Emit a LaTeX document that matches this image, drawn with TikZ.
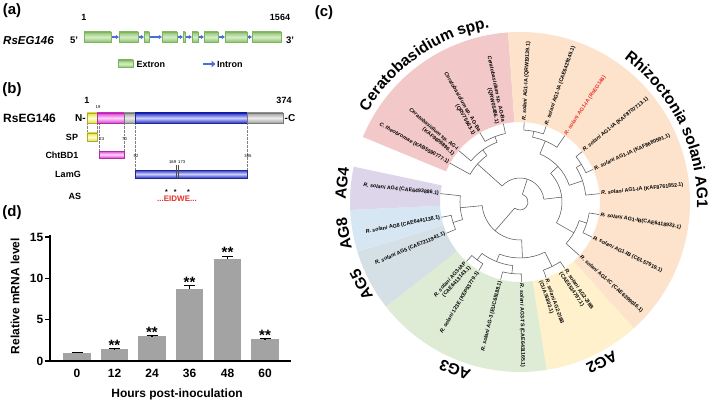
\documentclass[tikz,border=0pt]{standalone}
\usepackage{fontspec}
\setmainfont{Liberation Sans}
\usetikzlibrary{arrows.meta,decorations.text}

\definecolor{exonD}{HTML}{7DB55C}
\definecolor{exonL}{HTML}{D6EEC6}
\definecolor{intronC}{HTML}{4A6FD4}
\definecolor{spD}{HTML}{E8E04A}
\definecolor{spL}{HTML}{FFFFD0}
\definecolor{pkD}{HTML}{E040D8}
\definecolor{pkL}{HTML}{FFD8F8}
\definecolor{blD}{HTML}{2A34C4}
\definecolor{blL}{HTML}{CDD0FF}
\definecolor{gyD}{HTML}{A0A0A0}
\definecolor{gyL}{HTML}{EEEEEE}
\definecolor{barC}{HTML}{A3A3A3}
\definecolor{cCer}{HTML}{F3C8C8}
\definecolor{cAGone}{HTML}{FDE3CC}
\definecolor{cAGtwo}{HTML}{FEF1CC}
\definecolor{cAGthree}{HTML}{DEECD6}
\definecolor{cAGfive}{HTML}{D4E0E6}
\definecolor{cAGeight}{HTML}{D7E6F3}
\definecolor{cAGfour}{HTML}{DDD6EA}
\definecolor{brC}{HTML}{5A5A5A}
\definecolor{redC}{HTML}{E8302A}

\newcommand\fsz[2]{\fontsize{#1}{#2}\selectfont}
\newcommand\grpfont{\fontsize{15.5}{17}\selectfont\bfseries}
\newcommand\Rsol{\textit{R. solani}}
\newcommand\clade[5]{%
  \draw[br] (#2:#1) arc[start angle=#2, end angle=#4, radius=#1];
  \draw[br] (#2:#1) -- (#2:#3);
  \draw[br] (#4:#1) -- (#4:#5);}
\newcommand\leafR[3]{\node[lright, rotate=#2] (#1) at (#2:81) {#3};}
\newcommand\leafL[3]{\node[lleft, rotate=#2+180] (#1) at (#2:81) {#3};}
\newcommand\leafRt[3]{\node[lright, rotate=#2, yshift=-3.1pt] (#1) at (#2:81) {#3};}
\newcommand\leafLt[3]{\node[lleft, rotate=#2+180, yshift=-3.1pt] (#1) at (#2:81) {#3};}

\begin{document}
\begin{tikzpicture}[x=1pt,y=1pt,
  plab/.style={font=\fsz{15}{18}\bfseries, inner sep=0pt},
  tnine/.style={font=\fsz{9}{10}\bfseries, inner sep=0pt},
  tiny/.style={font=\fsz{4.2}{5}, inner sep=0pt},
  exon/.style={draw=exonD, line width=0.4, top color=exonD!85, bottom color=exonD!85, middle color=exonL},
  intron/.style={draw=intronC, line width=1.3, -{Triangle[length=3.2,width=4]}},
  dom/.style 2 args={draw=#1!75!black, line width=0.3, top color=#1, bottom color=#1, middle color=#2},
  dline/.style={draw=gray, line width=0.35, densely dotted},
  axisl/.style={line width=1.3, line cap=rect},
  tick/.style={font=\fsz{12}{14}\bfseries, inner sep=0pt},
  axlab/.style={font=\fsz{12}{14}\bfseries, inner sep=0pt},
  star/.style={font=\fsz{15}{16}\bfseries, inner sep=0pt},
  err/.style={line width=1.1},
  br/.style={draw=brC, line width=0.55},
  lbl/.style={font=\fsz{5.3}{6.2}\bfseries, inner sep=0.4pt},
  lright/.style={lbl, anchor=west, align=left},
  lleft/.style={lbl, anchor=east, align=right},
  glab/.style={font=\grpfont, inner sep=0pt}]
\useasboundingbox (0,0) rectangle (709,-401);
\fill[white] (0,0) rectangle (709,-401);

% ---------- panel labels
\node[plab] (pa) at (12,-11) {(a)};
\node[plab] (pb) at (12,-90) {(b)};
\node[plab] (pc) at (324,-13) {(c)};
\node[plab] (pd) at (12,-213) {(d)};

% ---------- (a) gene structure
\node[font=\fsz{11.5}{13}\bfseries\itshape, inner sep=0pt, anchor=west] (ga) at (3,-40.5) {RsEG146};
\node[font=\fsz{9.5}{11}\bfseries, inner sep=0pt] (afive) at (74,-40.5) {5'};
\node[font=\fsz{9.5}{11}\bfseries, inner sep=0pt] (athree) at (290,-40.5) {3'};
\node[tnine] (aone) at (84,-17) {1};
\node[tnine] (aend) at (280,-17) {1564};
\foreach \a/\b in {111/119,138/144,149/162,177/183,185/192,198/204,218/225,247/252}
  \draw[intron] (\a,-37) -- (\b,-37);
\foreach \a/\b in {84/111,119/138,144/149,162/177,183/185,192/198,204/218,225/247,252/281}
  \draw[exon] (\a,-32) rectangle (\b,-42);
\draw[exon] (118,-60) rectangle (133,-67.5);
\node[tnine, anchor=west] (lex) at (136.5,-64) {Extron};
\draw[draw=intronC, line width=2.6, -{Triangle[length=4,width=6.5]}] (203,-64) -- (215.5,-64);
\node[tnine, anchor=west] (lin) at (217,-64) {Intron};

% ---------- (b) domain structure
\node[font=\fsz{12}{14}\bfseries, inner sep=0pt, anchor=west] (bname) at (3,-118) {RsEG146};
\node[font=\fsz{10}{12}\bfseries, inner sep=0pt, anchor=east] (bN) at (86,-118) {N-};
\node[font=\fsz{10}{12}\bfseries, inner sep=0pt, anchor=west] (bC) at (284.5,-118) {-C};
\node[tnine] (bone) at (87,-100) {1};
\node[tnine] (bend) at (284,-100) {374};
\node[tiny] (n19) at (98,-107.5) {19};
\draw[dline] (87,-123) -- (87,-133);
\draw[dline] (97,-123) -- (97,-133);
\draw[dline] (99,-123) -- (99,-151);
\draw[dline] (124,-123) -- (124,-151);
\draw[dline] (135.2,-123) -- (135.2,-170);
\draw[dline] (247,-123) -- (247,-170);
\draw[dom={spD}{spL}] (87,-113) rectangle (97,-123);
\draw[dom={pkD}{pkL}] (97,-113) rectangle (124,-123);
\draw[dom={gyD}{gyL}] (124,-113) rectangle (135.2,-123);
\draw[dom={blD}{blL}] (135.2,-113) rectangle (247,-123);
\draw[dom={gyD}{gyL}] (247,-113) rectangle (283,-123);
\node[tnine] (bsp) at (72,-137) {SP};
\draw[dom={spD}{spL}] (87,-133) rectangle (97,-141);
\node[tiny] (n23) at (101.8,-139) {23};
\node[tiny] (n70) at (124.5,-139) {70};
\node[tnine] (bcht) at (62,-155) {ChtBD1};
\draw[dom={pkD}{pkL}] (99,-151) rectangle (124,-158);
\node[tiny] (n92) at (136,-156) {92};
\node[tiny] (n305) at (248,-156) {305};
\node[tiny, anchor=east] (n169) at (176.3,-162) {169};
\node[tiny, anchor=west] (n173) at (178,-162) {173};
\node[tnine] (blam) at (68,-174) {LamG};
\draw[dom={blD}{blL}] (135.2,-170) rectangle (247,-178);
\draw[line width=0.35, draw=black!70] (175.7,-165) -- (175.7,-178);
\draw[line width=0.35, draw=black!70] (177.7,-165) -- (177.7,-178);
\node[tnine] (bas) at (75,-196) {AS};
\foreach \x [count=\k] in {166.5,175.3,188.6}
  \node[font=\fsz{7}{8}\bfseries, inner sep=0pt] (ast\k) at (\x,-192) {*};
\node[font=\fsz{8}{9}\bfseries, text=redC, inner sep=0pt] (motif) at (177,-198.5) {...EIDWE...};

% ---------- (d) bar chart
\draw[axisl] (50,-236) -- (50,-361) -- (290,-361);
\foreach \v in {0,5,10,15} {
  \draw[axisl] (50,{-361+8.27*\v}) -- (46,{-361+8.27*\v});
  \node[tick, anchor=east] (yt\v) at (43.5,{-361+8.27*\v}) {\v};
}
\foreach \i/\c/\v/\e/\s in {0/77/1.0/0.05/0, 12/114.5/1.4/0.06/1, 24/152/3.0/0.06/1, 36/189.5/8.7/0.4/1, 48/227.5/12.3/0.35/1, 60/265/2.65/0.05/1} {
  \fill[barC] (\c-13.75,-360.4) rectangle (\c+13.75,{-361+8.27*\v});
  \draw[err] (\c,{-361+8.27*\v}) -- (\c,{-361+8.27*(\v+\e)});
  \draw[err] (\c-5.5,{-361+8.27*(\v+\e)}) -- (\c+5.5,{-361+8.27*(\v+\e)});
  \node[tick] (xt\i) at (\c,-373.5) {\i};
  \ifnum\s=1 \node[star, anchor=base] (st\i) at (\c,{-361+8.27*(\v+\e)-1.5}) {**}; \fi
}
\node[axlab, rotate=90] (ylab) at (15,-296) {Relative mRNA level};
\node[axlab] (xlab) at (177,-394) {Hours post-inoculation};

% ---------- (c) circular tree
\begin{scope}[shift={(520,-202)}]
  % sectors
  \foreach \a/\b/\col in {94/157.5/cCer, -48/94/cAGone, -81/-48/cAGtwo, -142/-81/cAGthree, -163/-142/cAGfive, -177.3/-163/cAGeight, -192/-177.3/cAGfour}
    \fill[\col] (\a:80) arc[start angle=\a, end angle=\b, radius=80] -- (\b:170) arc[start angle=\b, end angle=\a, radius=170] -- cycle;
  % branches
  \clade{70}{102}{80}{120}{80}
  \clade{64}{111}{70}{140}{80}
  \clade{57}{125.5}{64}{151}{80}
  \clade{72}{71}{80}{87}{80}
  \clade{66}{56}{80}{79}{72}
  \clade{72}{24}{80}{39}{80}
  \clade{66}{6}{80}{31.5}{72}
  \clade{52}{18.75}{66}{67.5}{66}
  \clade{70}{-26}{80}{-9}{80}
  \clade{62}{-42}{80}{-17.5}{70}
  \clade{42}{-29.75}{62}{43.125}{52}
  \clade{72}{-71}{80}{-56}{80}
  \clade{72}{-104}{80}{-89}{80}
  \clade{72}{-132}{80}{-121}{80}
  \clade{64}{-126.5}{72}{-96.5}{72}
  \clade{56}{-111.5}{64}{-63.5}{72}
  \clade{70}{-169}{80}{-157}{80}
  \clade{60}{-186}{80}{-163}{70}
  \clade{38}{-174.5}{60}{-87.5}{56}
  \clade{24}{6.6875}{42}{138.25}{57}
  \clade{8}{-131}{38}{72.47}{24}
  % leaf labels, right half
  \leafR{L1}{87}{\Rsol{} AG1-IA (QRW19139.1)}
  \leafR{L2}{71}{\Rsol{} AG1-IA (CAE6429145.1)}
  \node[lright, rotate=56, text=redC] (L3) at (56:81) {\Rsol{} AG1-IA (RsEG146)};
  \leafR{L4}{39}{\Rsol{} AG1-IA (KAF8707713.1)}
  \leafR{L5}{24}{\Rsol{} AG1-IA (KAF8680591.1)}
  \leafR{L6}{6}{\Rsol{} AG1-IA (KAF8761852.1)}
  \leafR{L7}{-9}{\Rsol{} AG1-IB(CAE6418933.1)}
  \leafR{L8}{-26}{\Rsol{} AG1-IB (CEL57919.1)}
  \leafR{L9}{-42}{\Rsol{} AG1-IC (CAE6399016.1)}
  \leafRt{L10}{-56}{\Rsol{} AG2-2IIIB\\(CAE6514797.1)}
  \leafRt{L11}{-71}{\Rsol{} AG2-2IIIB\\(CUA76803.1)}
  \leafR{L12}{-89}{\Rsol{} AG3-TS (CAE6431165.1)}
  % leaf labels, left half
  \leafL{L13}{256}{\Rsol{} AG-3 (EUC65188.1)}
  \leafL{L14}{239}{\Rsol{} 123E (KEP53779.1)}
  \leafLt{L15}{228}{\Rsol{} AG3-IAP\\(CAE6413143.1)}
  \leafL{L16}{203}{\Rsol{} AG5 (CAE7211941.1)}
  \leafL{L17}{191}{\Rsol{} AG8 (CAE6441138.1)}
  \leafL{L18}{174}{\Rsol{} AG4 (CAE6493886.1)}
  \leafL{L19}{151}{\textit{C. theobromae} (KAB5590777.1)}
  \leafLt{L20}{140}{\textit{Ceratobasidium} sp. AG-I\\(KAF9609896.1)}
  \leafLt{L21}{120}{\textit{Ceratobasidium} sp. AG-Ba\\(QRV75663.1)}
  \leafLt{L22}{102}{\textit{Ceratobasidium} sp. AG-Ba\\(QRW05486.1)}
  % group labels
  \path[decorate, decoration={text along path, text={|\grpfont|Ceratobasidium spp.}, text align=center}]
    (165:177) arc[start angle=165, end angle=84.4, radius=177];
  \path[decorate, decoration={text along path, text={|\grpfont|Rhizoctonia solani AG1}, text align=center}]
    (72:177) arc[start angle=72, end angle=-20, radius=177];
  \node[glab, rotate=84] (gAGfour) at (174:179) {AG4};
  \node[glab, rotate=100] (gAGeight) at (190.2:179) {AG8};
  \node[glab, rotate=117.6] (gAGfive) at (207.6:179) {AG5};
  \node[glab, rotate=158.8] (gAGthree) at (248.8:180) {AG3};
  \node[glab, rotate=207] (gAGtwo) at (297:180) {AG2};
\end{scope}
\end{tikzpicture}
\end{document}
